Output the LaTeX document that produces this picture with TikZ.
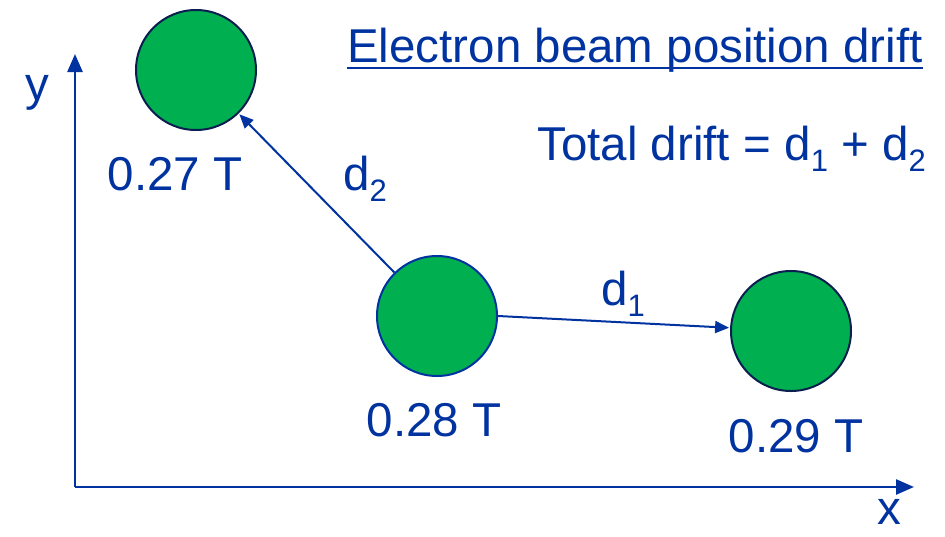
\documentclass[tikz,border=0pt]{standalone}
\usepackage{fontspec}
\setmainfont{Liberation Sans}
\usetikzlibrary{arrows.meta}
\definecolor{tblue}{HTML}{0033A0}
\definecolor{tgreen}{HTML}{00B050}
\definecolor{tnavy}{HTML}{0A1F4F}
\newcommand\sbs[1]{\raisebox{-0.25em}{\fontsize{31}{31}\selectfont #1}}
\tikzset{
  txt/.style={text=tblue, font=\fontsize{47.5}{50}\selectfont, inner sep=0pt},
  ball/.style={circle, fill=tgreen, line width=2pt, minimum size=120pt, inner sep=0pt},
  axis/.style={draw=tblue, line width=2.5pt, -{Triangle[length=18pt,width=15pt]}},
  conn/.style={draw=tblue, line width=2pt, -{Triangle[length=14pt,width=12pt]}, shorten >=1pt}
}
\begin{document}
\begin{tikzpicture}[x=1pt,y=-1pt]
\useasboundingbox (0,0) rectangle (945,536);
\coordinate (o) at (75,487);
\coordinate (ytip) at (75,54);
\coordinate (xtip) at (914,487);
\draw[axis] (o) -- (ytip);
\draw[axis] (o) -- (xtip);
\node[txt, anchor=base] (ylab) at (37,100) {y};
\node[txt, anchor=base] (xlab) at (889,524) {x};
\node[ball, draw=tnavy] (c1) at (196,70) {};
\node[ball, draw=tblue] (c2) at (437,316) {};
\node[ball, draw=tnavy] (c3) at (791,331) {};
\node[txt, anchor=base] (l1) at (175,190) {0.27 T};
\node[txt, anchor=base] (l2) at (434,436) {0.28 T};
\node[txt, anchor=base] (l3) at (796,452) {0.29 T};
\draw[conn] (c2) -- (c1);
\draw[conn] (c2.0) -- (c3.177);
\node[txt, anchor=base west] (d2) at (343,190) {d\sbs{2}};
\node[txt, anchor=base west] (d1) at (601,305) {d\sbs{1}};
\node[txt, anchor=base west] (title) at (347,62) {Electron beam position drift};
\draw[tblue, line width=2.5pt] ([yshift=-6pt]title.base west) -- ([yshift=-6pt]title.base east);
\node[txt, anchor=base east] (tot) at (926,160) {Total drift = d\sbs{1} + d\sbs{2}};
\end{tikzpicture}
\end{document}
